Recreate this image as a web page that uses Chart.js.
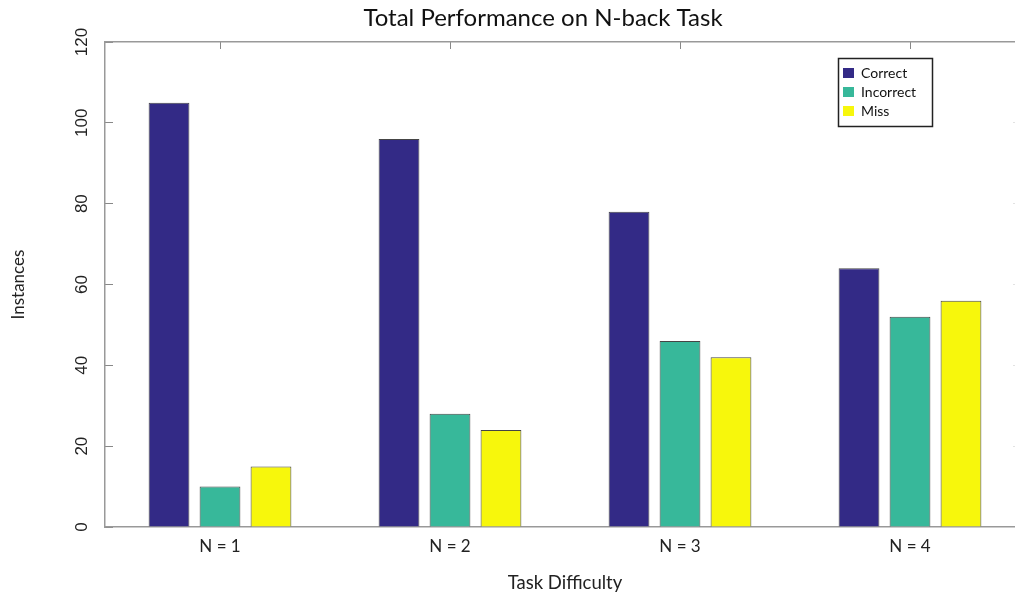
<!DOCTYPE html>
<html>
<head>
<meta charset="utf-8">
<script src="https://cdn.jsdelivr.net/npm/chart.js@4"></script>
<style>
  html, body { margin: 0; padding: 0; background: #fff; overflow: hidden; }
  #wrap { width: 1086px; height: 596px; }
</style>
</head>
<body>
<div id="wrap"><canvas id="c" width="1086" height="596"></canvas></div>
<script>
const categories = ['N = 1', 'N = 2', 'N = 3', 'N = 4'];
const seriesNames = ['Correct', 'Incorrect', 'Miss'];
const correct = [105, 96, 78, 64];
const incorrect = [10, 28, 46, 52];
const miss = [15, 24, 42, 56];
const yTickValues = [0, 20, 40, 60, 80, 100, 120];
const chartTitle = 'Total Performance on N-back Task';
const xTitle = 'Task Difficulty';
const yTitle = 'Instances';

const colors = ['#332A86', '#37B89A', '#F7F70C'];
const uiFont = 'Lato, "Open Sans", sans-serif';

const boxLegend = {
  id: 'boxLegend',
  afterDraw(chart) {
    const ctx = chart.ctx;
    ctx.save();
    ctx.fillStyle = '#fff';
    ctx.fillRect(838.5, 58.5, 94, 68);
    ctx.strokeStyle = '#222';
    ctx.lineWidth = 1.5;
    ctx.strokeRect(838.5, 58.5, 94, 68);
    ctx.font = '14px ' + uiFont;
    ctx.textBaseline = 'middle';
    ctx.textAlign = 'left';
    chart.data.datasets.forEach((ds, i) => {
      const cy = 73 + i * 19;
      ctx.fillStyle = ds.backgroundColor;
      ctx.fillRect(843, cy - 5, 11, 10);
      ctx.fillStyle = '#111';
      ctx.fillText(ds.label, 861, cy + 0.5);
    });
    ctx.restore();
  }
};

const series = [correct, incorrect, miss];

new Chart(document.getElementById('c'), {
  type: 'bar',
  data: {
    labels: categories,
    datasets: seriesNames.map((name, i) => ({
      label: name,
      data: series[i],
      backgroundColor: colors[i],
      borderColor: '#454545',
      borderWidth: 1,
      categoryPercentage: 0.665,
      barPercentage: 0.8
    }))
  },
  options: {
    responsive: false,
    animation: false,
    layout: { padding: 0 },
    plugins: {
      legend: { display: false },
      tooltip: { enabled: false },
      title: {
        display: true,
        text: chartTitle,
        color: '#111',
        font: { family: uiFont, size: 24, weight: 'normal', lineHeight: 1.2 },
        padding: { top: 4, bottom: 9.2 }
      }
    },
    scales: {
      x: {
        type: 'category',
        position: 'bottom',
        offset: true,
        grid: { display: false, drawTicks: false },
        border: { display: true, color: '#999', width: 1.5 },
        ticks: { color: '#222', font: { family: uiFont, size: 17 }, padding: 9 },
        title: { display: true, text: xTitle, color: '#222', font: { family: uiFont, size: 18.5 }, padding: { top: 0, bottom: 2 } },
        afterFit(s) { s.height = 69; }
      },
      x2: {
        type: 'category',
        position: 'top',
        offset: true,
        grid: { drawOnChartArea: false, offset: false, tickLength: -7, color: '#888', lineWidth: 1 },
        border: { display: true, color: '#999', width: 1.5 },
        ticks: { display: false },
        afterFit(s) { s.height = 0; }
      },
      y: {
        type: 'linear',
        position: 'left',
        min: 0,
        max: 120,
        afterBuildTicks(s) { s.ticks = yTickValues.map(v => ({ value: v })); },
        grid: { drawOnChartArea: false, tickLength: -8, color: '#888', lineWidth: 1 },
        border: { display: true, color: '#999', width: 1.5 },
        ticks: {
          color: '#222',
          font: { family: '"Liberation Sans", Arial, sans-serif', size: 17 },
          minRotation: 90,
          maxRotation: 90,
          crossAlign: 'center',
          padding: 17
        },
        title: { display: true, text: yTitle, color: '#222', font: { family: uiFont, size: 17 }, padding: { top: 8, bottom: 0 } },
        afterFit(s) { s.width = 105; }
      },
      y2: {
        type: 'linear',
        position: 'right',
        min: 0,
        max: 120,
        afterBuildTicks(s) { s.ticks = yTickValues.slice(1, -1).map(v => ({ value: v })); },
        grid: { drawOnChartArea: false, tickLength: -12, color: '#e2e2e2', lineWidth: 1 },
        border: { display: false },
        ticks: { display: false },
        afterFit(s) { s.width = 61; }
      }
    }
  },
  plugins: [boxLegend]
});
</script>
</body>
</html>
